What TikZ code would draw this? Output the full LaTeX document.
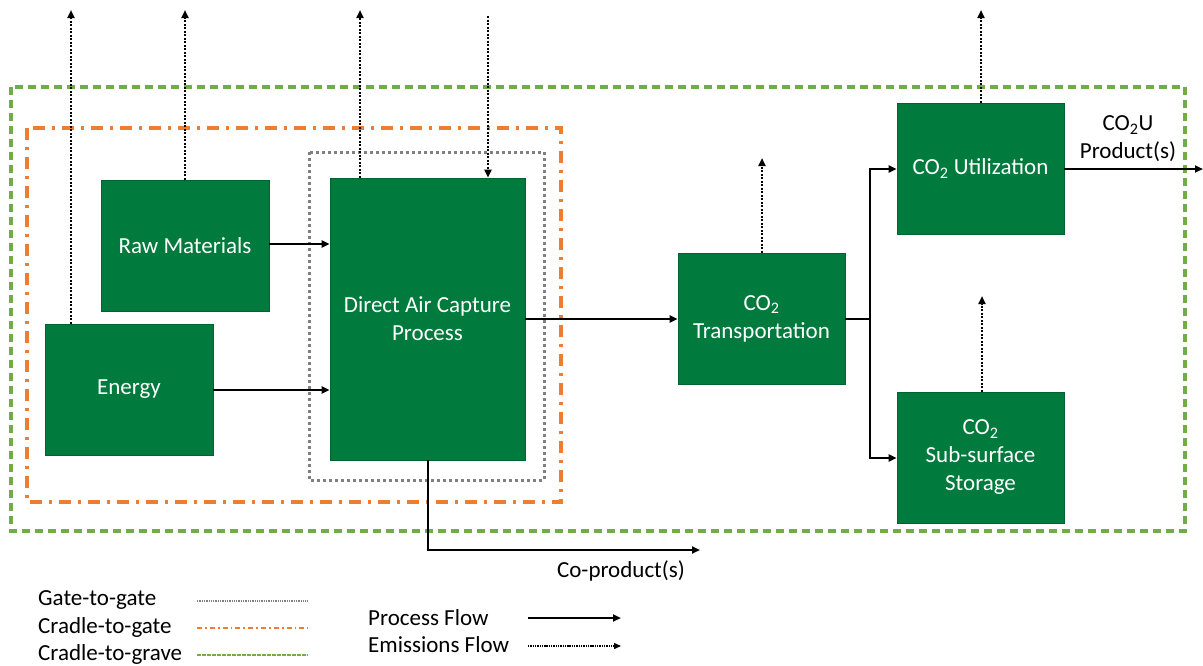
\documentclass[tikz,border=0pt]{standalone}
\usepackage{fontspec}
\setmainfont{Carlito}
\usetikzlibrary{arrows.meta}
\definecolor{boxgreen}{RGB}{0,122,61}
\definecolor{gravegreen}{RGB}{112,173,71}
\definecolor{gateorange}{RGB}{237,125,49}
\definecolor{gategray}{RGB}{128,128,128}
\tikzset{
  procbox/.style={rectangle, fill=boxgreen, draw=boxgreen!80!black, line width=0.6pt, text=white, align=center, font=\fontsize{23}{28}\selectfont, inner sep=0pt},
  proc/.style={line width=2pt, -{Triangle[length=8pt,width=7pt]}},
  procline/.style={line width=2pt},
  emis/.style={line width=2pt, dash pattern=on 2pt off 1.5pt, -{Triangle[length=8pt,width=7pt]}},
  grave/.style={draw=gravegreen, line width=3.2pt, dash pattern=on 8pt off 5pt},
  cradle/.style={draw=gateorange, line width=3.2pt, dash pattern=on 12pt off 7pt on 3pt off 7pt},
  g2g/.style={draw=gategray, line width=3pt, dash pattern=on 3pt off 3pt},
  lbl/.style={font=\fontsize{23}{28}\selectfont, text=black, align=center, inner sep=0pt},
  leg/.style={font=\fontsize{23}{28}\selectfont, text=black, anchor=west, inner sep=0pt}
}
\begin{document}
\begin{tikzpicture}[x=1pt,y=-1pt]
\useasboundingbox (0,0) rectangle (1203,665);
% boundaries
\draw[grave] (11,87) rectangle (1185,531);
\draw[cradle] (27,128) rectangle (561,502);
\draw[g2g] (309,152) rectangle (544,480);
% boxes
\node[procbox, minimum width=168pt, minimum height=131pt] (raw) at (185,245.5) {Raw Materials};
\node[procbox, minimum width=168pt, minimum height=131pt] (en) at (129,389.5) {Energy};
\node[procbox, minimum width=195pt, minimum height=282pt] (dac) at (427.5,319) {Direct Air Capture\\Process};
\node[procbox, minimum width=167pt, minimum height=131pt] (tr) at (761.5,318.5) {CO\textsubscript{2}\\Transportation};
\node[procbox, minimum width=167pt, minimum height=131pt] (ut) at (980.5,168.5) {CO\textsubscript{2} Utilization};
\node[procbox, minimum width=167pt, minimum height=131pt] (st) at (980.5,457.5) {CO\textsubscript{2}\\Sub-surface\\Storage};
% free-end coordinates
\coordinate (eEn) at (71,10);
\coordinate (eRaw) at (185,10);
\coordinate (eDac) at (360,10);
\coordinate (iDac) at (488,16);
\coordinate (eTr) at (762,158);
\coordinate (eUt) at (981,10);
\coordinate (eSt) at (982,296);
\coordinate (split) at (870,319);
\coordinate (outUt) at (1203,169);
\coordinate (coDown) at (428,550);
\coordinate (coEnd) at (700,550);
% emission flows
\draw[emis] (eEn |- en.north) -- (eEn);
\draw[emis] (eRaw |- raw.north) -- (eRaw);
\draw[emis] (eDac |- dac.north) -- (eDac);
\draw[emis] (iDac) -- (iDac |- dac.north);
\draw[emis] (eTr |- tr.north) -- (eTr);
\draw[emis] (eUt |- ut.north) -- (eUt);
\draw[emis] (eSt |- st.north) -- (eSt);
% process flows
\draw[proc] (raw.east |- 0,244) -- (dac.west |- 0,244);
\draw[proc] (en.east |- 0,390) -- (dac.west |- 0,390);
\draw[proc] (dac.east |- 0,319) -- (tr.west |- 0,319);
\draw[procline] (tr.east |- split) -- (split);
\draw[proc] (split) |- (ut.west |- 0,169);
\draw[proc] (split) |- (st.west |- 0,458);
\draw[proc] (ut.east |- outUt) -- (outUt);
\draw[proc] (dac.south -| coDown) -- (coDown) -- (coEnd);
% labels
\node[lbl] (cou) at (1128,139) {CO\textsubscript{2}U\\Product(s)};
\node[lbl] (cop) at (621,571) {Co-product(s)};
% legend
\node[leg] (l1) at (38,600) {Gate-to-gate};
\node[leg] (l2) at (38,627) {Cradle-to-gate};
\node[leg] (l3) at (38,654) {Cradle-to-grave};
\coordinate (l1a) at (197,601); \coordinate (l1b) at (308,601);
\coordinate (l2a) at (197,628); \coordinate (l2b) at (308,628);
\coordinate (l3a) at (197,655); \coordinate (l3b) at (308,655);
\draw[draw=gategray, line width=1.3pt, dash pattern=on 1.3pt off 1pt] (l1a) -- (l1b);
\draw[draw=gateorange, line width=1.8pt, dash pattern=on 5pt off 3pt on 1.8pt off 3pt] (l2a) -- (l2b);
\draw[draw=gravegreen, line width=1.8pt, dash pattern=on 3.5pt off 1.5pt] (l3a) -- (l3b);
\node[leg] (l4) at (368,618) {Process Flow};
\node[leg] (l5) at (368,645) {Emissions Flow};
\coordinate (l4a) at (528,618); \coordinate (l4b) at (621,618);
\coordinate (l5a) at (528,646); \coordinate (l5b) at (621,646);
\draw[proc] (l4a) -- (l4b);
\draw[line width=1.4pt, dash pattern=on 1.4pt off 0.9pt, -{Triangle[length=7pt,width=6pt]}] (l5a) -- (l5b);
\end{tikzpicture}
\end{document}
